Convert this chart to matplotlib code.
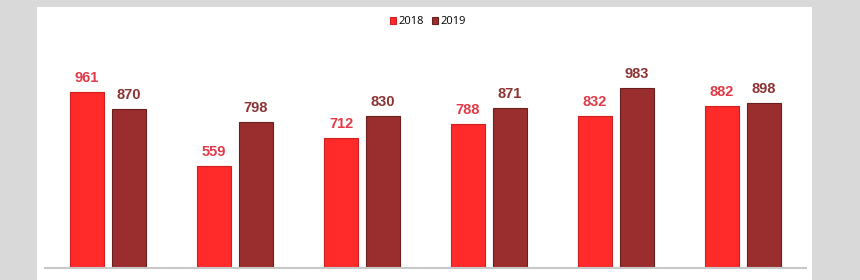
import matplotlib
matplotlib.use("Agg")
import matplotlib.pyplot as plt
from matplotlib.patches import Rectangle
import numpy as np

categories = ["1", "2", "3", "4", "5", "6"]
series_names = ["2018", "2019"]
values_2018 = [961, 559, 712, 788, 832, 882]
values_2019 = [870, 798, 830, 871, 983, 898]

W, H = 860, 280
fig = plt.figure(figsize=(W / 100, H / 100), dpi=100)
fig.patch.set_facecolor("#d9d9d9")
fig.patches.append(Rectangle((37 / W, 0), (812 - 37) / W, (H - 7) / H,
                             transform=fig.transFigure, facecolor="white",
                             edgecolor="none", zorder=-10))

ax = fig.add_axes([45 / W, 12 / H, (806 - 45) / W, 228 / H])
ax.set_facecolor("none")
ax.set_zorder(5)
ax.set_xlim(-0.496, 5.496)
ax.set_ylim(0, 1244)

x = np.arange(len(categories))
bw = 0.268
off = 0.165
c18, c19 = "#ff2a2a", "#9a2e2e"
e18, e19 = "#d01f1f", "#6a1f1f"
b1 = ax.bar(x - off, values_2018, bw, color=c18, edgecolor=e18, linewidth=0.8,
            label=series_names[0], zorder=2)
b2 = ax.bar(x + off, values_2019, bw, color=c19, edgecolor=e19, linewidth=0.8,
            label=series_names[1], zorder=2)

for xi, v in zip(x, values_2018):
    ax.annotate(str(v), (xi - off, v), xytext=(0, 5), textcoords="offset points",
                ha="center", va="bottom", fontsize=10.5, fontweight="bold",
                color="#e23a48", family="Liberation Sans")
for xi, v in zip(x, values_2019):
    ax.annotate(str(v), (xi + off, v), xytext=(0, 5), textcoords="offset points",
                ha="center", va="bottom", fontsize=10.5, fontweight="bold",
                color="#8c3232", family="Liberation Sans")

for s in ["top", "right", "left"]:
    ax.spines[s].set_visible(False)
ax.spines["bottom"].set_color("#c8c8c8")
ax.spines["bottom"].set_linewidth(1.5)
ax.set_xticks([])
ax.set_yticks([])

leg = fig.legend(handles=[b1, b2], labels=series_names, loc="center",
                 bbox_to_anchor=(428 / W, 1 - 22 / H), ncol=2, frameon=False,
                 handlelength=0.55, handleheight=0.55, handletextpad=0.25,
                 columnspacing=0.7, prop={"family": "Open Sans", "size": 8})
leg.set_zorder(10)

fig.savefig("out.png", dpi=100, facecolor=fig.get_facecolor())
